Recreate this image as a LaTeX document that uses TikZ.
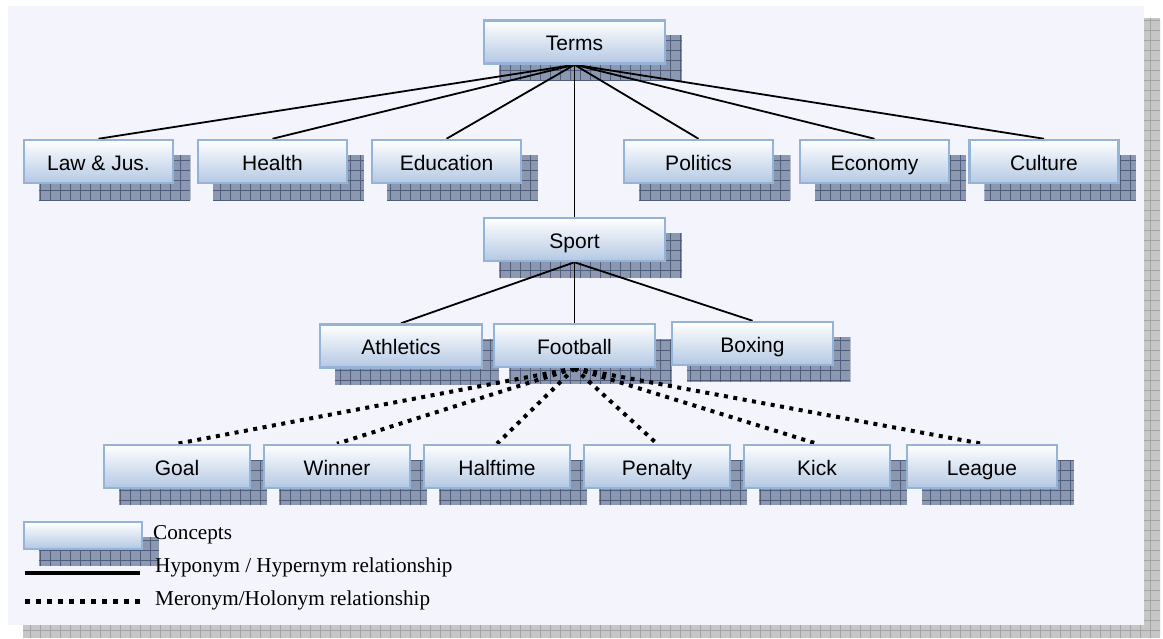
\documentclass[tikz,border=0pt]{standalone}
\usepackage{fontspec}
\setmainfont{Liberation Serif}
\newfontfamily\boxfont{Liberation Sans}
\usetikzlibrary{calc}

\definecolor{panelbg}{HTML}{F3F4FC}
\definecolor{outershade}{HTML}{C6C6C6}
\definecolor{outergrid}{HTML}{A4A4A4}
\definecolor{boxshade}{HTML}{8B98AF}
\definecolor{boxgrid}{HTML}{4E5E7C}
\definecolor{boxedge}{HTML}{95B3D7}
\definecolor{boxlow}{HTML}{B4C8E3}

\pgfdeclarelayer{panel}
\pgfdeclarelayer{shade}
\pgfdeclarelayer{links}
\pgfsetlayers{panel,shade,links,main}

\tikzset{
  concept/.style={draw=boxedge, line width=2.5pt, top color=white, bottom color=boxlow,
    minimum height=43pt, inner sep=0pt, text=black,
    text height=17pt, text depth=0pt,
    font=\boxfont\fontsize{21}{25}\selectfont},
  hyper/.style={line width=1.8pt, black},
  mero/.style={line width=4pt, black, dash pattern=on 4pt off 5.5pt},
  legendtext/.style={anchor=base west, inner sep=0pt, font=\fontsize{21.2}{25}\selectfont},
}

% hatched drop shadow behind a concept box
\newcommand\dropshade[1]{%
  \path ([shift={(16,16)}]#1.south west) coordinate (shA)
        ([shift={(16,16)}]#1.north east) coordinate (shB);
  \begin{scope}
    \clip (shA) rectangle (shB);
    \fill[boxshade] (shA) rectangle (shB);
    \draw[boxgrid, line width=0.7pt, step=10pt] (shA) grid (shB);
  \end{scope}}

\begin{document}
\begin{tikzpicture}[x=1pt, y=-1pt]
\useasboundingbox (0,0) rectangle (1163,638);

% page panel with its shadow
\begin{pgfonlayer}{panel}
  \begin{scope}
    \clip (23,18) rectangle (1160,638);
    \fill[outershade] (23,18) rectangle (1160,638);
    \draw[outergrid, line width=0.7pt, step=10pt] (23,18) grid (1160,638);
  \end{scope}
  \fill[panelbg] (8,6) rectangle (1144,625);
\end{pgfonlayer}

% concepts
\node[concept, minimum width=181pt] (terms) at (574.5,42) {Terms};

\node[concept, minimum width=149pt] (law)       at (98.5,161.5)  {Law \& Jus.};
\node[concept, minimum width=149pt] (health)    at (272.5,161.5) {Health};
\node[concept, minimum width=149pt] (education) at (446.5,161.5) {Education};
\node[concept, minimum width=149pt] (politics)  at (698.5,161.5) {Politics};
\node[concept, minimum width=149pt] (economy)   at (874.5,161.5) {Economy};
\node[concept, minimum width=149pt] (culture)   at (1044,161.5)  {Culture};

\node[concept, minimum width=181pt] (sport) at (574.5,239.5) {Sport};

\node[concept, minimum width=162pt] (athletics) at (401,346)   {Athletics};
\node[concept, minimum width=161pt] (football)  at (574.5,345.5) {Football};
\node[concept, minimum width=161pt] (boxing)    at (752.5,343.5) {Boxing};

\node[concept, minimum width=146pt] (goal)     at (177,466.5) {Goal};
\node[concept, minimum width=146pt] (winner)   at (337,466.5) {Winner};
\node[concept, minimum width=146pt] (halftime) at (497,466.5) {Halftime};
\node[concept, minimum width=146pt] (penalty)  at (657,466.5) {Penalty};
\node[concept, minimum width=146pt] (kick)     at (817,466.5) {Kick};
\node[concept, minimum width=150pt] (league)   at (982,466.5) {League};

% legend
\node[concept, minimum width=118pt, minimum height=27pt, text height=0pt, text depth=0pt] (legendbox) at (83,535.5) {};
\node[legendtext] (lconcepts) at (153,539) {Concepts};
\node[legendtext] (lhyper)    at (155,572) {Hyponym / Hypernym relationship};
\node[legendtext] (lmero)     at (155,605) {Meronym/Holonym relationship};
\coordinate (hypA) at (25,573);
\coordinate (hypB) at (140,573);
\coordinate (merA) at (25,601);
\coordinate (merB) at (140,601);

% shadows
\begin{pgfonlayer}{shade}
  \foreach \n in {terms,law,health,education,politics,economy,culture,sport,
                  athletics,football,boxing,goal,winner,halftime,penalty,kick,league,legendbox}
    {\dropshade{\n}}
\end{pgfonlayer}

% relationships
\begin{pgfonlayer}{links}
  \foreach \n in {law,health,education,politics,economy,culture,sport}
    \draw[hyper] (terms.south) -- (\n.north);
  \foreach \n in {athletics,football,boxing}
    \draw[hyper] (sport.south) -- (\n.north);
  \foreach \n in {goal,winner,halftime,penalty,kick,league}
    \draw[mero] (football.south) -- (\n.north);
  \draw[line width=4.5pt] (hypA) -- (hypB);
  \draw[line width=5pt, dash pattern=on 5pt off 6pt] (merA) -- (merB);
\end{pgfonlayer}
\end{tikzpicture}
\end{document}
